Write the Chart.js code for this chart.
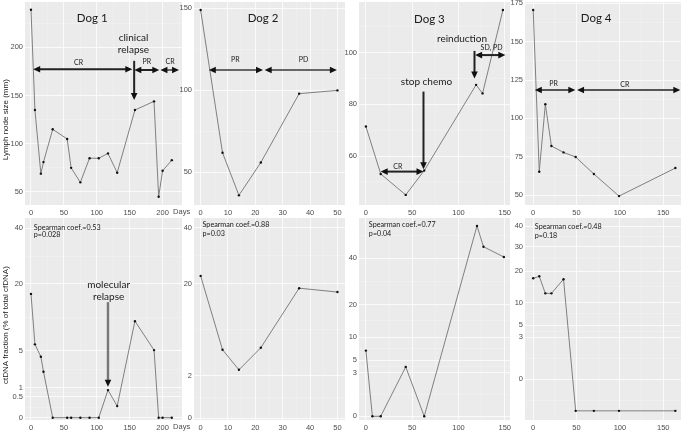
<!DOCTYPE html>
<html>
<head>
<meta charset="utf-8">
<script src="https://cdn.jsdelivr.net/npm/chart.js@4.4.0/dist/chart.umd.min.js"></script>
<style>
  body { margin: 0; background: #fff; }
  #wrap { position: relative; width: 685px; height: 435px; overflow: hidden; }
  canvas { position: absolute; }
</style>
</head>
<body>
<div id="wrap"></div>
<script>
// values (days since start)
const dog1Days = [0, 6, 15, 19, 33, 55, 61, 75, 89, 103, 117, 131, 158, 187, 194, 200, 214];
const dog1Node = [239, 135, 69, 81, 115, 105, 75, 60, 85, 85, 90, 70, 135, 144, 45, 72, 83];
const dog1Ct = [17.1, 6.0, 4.15, 2.36, 0, 0, 0, 0, 0, 0, 0.85, 0.15, 10.4, 5.1, 0, 0, 0];

const dog2Days = [0, 8, 14, 22, 36, 50];
const dog2Node = [149, 62, 36, 56, 98, 100];
const dog2Ct = [22.4, 5.2, 2.6, 5.5, 18.7, 17.6];

const dog3NodeDays = [0, 16, 43, 63, 119, 126, 148];
const dog3Node = [71.4, 53.1, 45.0, 54.4, 87.5, 84.2, 116.4];
const dog3CtDays = [0, 7, 16, 43, 63, 120, 127, 149];
const dog3Ct = [6.9, 0, 0, 3.9, 0, 58, 46, 40.6];

const dog4Days = [0, 7, 14, 21, 35, 49, 70, 99, 164];
const dog4Node = [170.7, 65.2, 109.2, 82, 77.8, 74.8, 63.7, 49.3, 67.6];
const dog4Ct = [17.4, 18.1, 12.6, 12.6, 17.1, -1.7, -1.7, -1.7, -1.7];

// tick labels
const dog1XTicks = [0, 50, 100, 150, 200];
const dog2XTicks = [0, 10, 20, 30, 40, 50];
const dog34XTicks = [0, 50, 100, 150];
const dog1NodeTicks = [50, 100, 150, 200];
const dog2NodeTicks = [50, 100, 150];
const dog3NodeTicks = [60, 80, 100];
const dog4NodeTicks = [50, 75, 100, 125, 150, 175];
const dog1CtTicks = [0, 0.5, 1, 5, 20, 40];
const dog2CtTicks = [0, 2, 20, 40];
const dog3CtTicks = [0, 3, 5, 10, 20, 40];
const dog4CtTicks = [0, 3, 5, 10, 20, 30, 40];

// annotations, in data units
const dog1NodeNotes = {
  texts: [
    { x: 93, y: 230, t: "Dog 1", size: 11.5 },
    { x: 72.4, y: 184.4, t: "CR", size: 7 },
    { x: 176, y: 185, t: "PR", size: 7 },
    { x: 211.4, y: 185, t: "CR", size: 7 },
    { x: 155.8, y: 210.4, t: "clinical", size: 10 },
    { x: 155.8, y: 197.2, t: "relapse", size: 10 },
  ],
  arrows: [
    { x1: 3.3, y1: 177.2, x2: 154, y2: 177.2, both: true },
    { x1: 157, y1: 176.5, x2: 195, y2: 176.5, both: true },
    { x1: 196.7, y1: 176.5, x2: 225, y2: 176.5, both: true, color: "#666" },
    { x1: 156.8, y1: 186, x2: 156.8, y2: 145.4 },
  ],
};
const dog2NodeNotes = {
  texts: [
    { x: 22.8, y: 144, t: "Dog 2", size: 11.5 },
    { x: 12.7, y: 118.5, t: "PR", size: 7 },
    { x: 37.6, y: 118.5, t: "PD", size: 7 },
  ],
  arrows: [
    { x1: 3.0, y1: 112.4, x2: 22.8, y2: 112.4, both: true, color: "#666" },
    { x1: 23.4, y1: 112.4, x2: 49.8, y2: 112.4, both: true, color: "#666" },
  ],
};
const dog3NodeNotes = {
  texts: [
    { x: 68.6, y: 113, t: "Dog 3", size: 11.5 },
    { x: 34.5, y: 55.9, t: "CR", size: 7 },
    { x: 65.4, y: 88.7, t: "stop chemo", size: 10 },
    { x: 103.8, y: 105.2, t: "reinduction", size: 10 },
    { x: 135.7, y: 101.9, t: "SD, PD", size: 7 },
  ],
  arrows: [
    { x1: 16, y1: 54, x2: 62.2, y2: 54, both: true },
    { x1: 62.2, y1: 84.9, x2: 62.2, y2: 54.9 },
    { x1: 117.3, y1: 100.6, x2: 117.3, y2: 90 },
    { x1: 118, y1: 99, x2: 150.6, y2: 99, both: true },
  ],
};
const dog4NodeNotes = {
  texts: [
    { x: 72.6, y: 165, t: "Dog 4", size: 11.5 },
    { x: 23.6, y: 122.9, t: "PR", size: 7 },
    { x: 105.6, y: 121.8, t: "CR", size: 7 },
  ],
  arrows: [
    { x1: 1.9, y1: 118.5, x2: 48.6, y2: 118.5, both: true, color: "#555" },
    { x1: 50.6, y1: 118.5, x2: 169.7, y2: 118.5, both: true, color: "#555" },
  ],
};
const dog1CtNotes = {
  texts: [
    { x: 4.3, y: 40.3, t: "Spearman coef.=0.53", size: 7.2, left: true },
    { x: 4.3, y: 37.3, t: "p=0.028", size: 7.2, left: true },
    { x: 118, y: 19.7, t: "molecular", size: 10 },
    { x: 118, y: 16.3, t: "relapse", size: 10 },
  ],
  arrows: [{ x1: 117, y1: 14.9, x2: 117, y2: 1.07, color: "#777", width: 2.4 }],
};
const dog2CtNotes = {
  texts: [
    { x: 0.7, y: 41.2, t: "Spearman coef.=0.88", size: 7.2, left: true },
    { x: 0.7, y: 37.8, t: "p=0.03", size: 7.2, left: true },
  ],
  arrows: [],
};
const dog3CtNotes = {
  texts: [
    { x: 3.2, y: 58.5, t: "Spearman coef.=0.77", size: 7.2, left: true },
    { x: 3.2, y: 53.6, t: "p=0.04", size: 7.2, left: true },
  ],
  arrows: [],
};
const dog4CtNotes = {
  texts: [
    { x: 1.9, y: 39.5, t: "Spearman coef.=0.48", size: 7.2, left: true },
    { x: 1.9, y: 35.2, t: "p=0.18", size: 7.2, left: true },
  ],
  arrows: [],
};

// square-root value axis (signed, so values under 0 still place)
const sgnSqrt = (v) => Math.sign(v) * Math.sqrt(Math.abs(v));
const sgnSq = (t) => Math.sign(t) * t * t;

class SqrtScale extends Chart.LinearScale {
  getPixelForValue(value) {
    if (value === null || value === undefined || isNaN(value)) return NaN;
    const a = sgnSqrt(this.min), b = sgnSqrt(this.max);
    return this.getPixelForDecimal((sgnSqrt(value) - a) / (b - a));
  }
  getValueForPixel(pixel) {
    const a = sgnSqrt(this.min), b = sgnSqrt(this.max);
    return sgnSq(a + this.getDecimalForPixel(pixel) * (b - a));
  }
}
SqrtScale.id = "sqrt";
SqrtScale.defaults = Chart.LinearScale.defaults;
Chart.register(SqrtScale);

// major ticks plus ggplot style minor grid lines halfway between
function gridTicks(majors, min, max, fwd, inv) {
  const t = majors.map(fwd);
  const mids = [t[0] - (t[1] - t[0]) / 2];
  for (let i = 0; i < t.length - 1; i++) mids.push((t[i] + t[i + 1]) / 2);
  mids.push(t[t.length - 1] + (t[t.length - 1] - t[t.length - 2]) / 2);
  const out = majors.map((v) => ({ value: v }));
  mids.map(inv).forEach((v) => {
    if (v > min && v < max) out.push({ value: v, minor: true });
  });
  return out.sort((p, q) => p.value - q.value);
}

function axis(type, min, max, majors, isX, size) {
  const fwd = type === "sqrt" ? sgnSqrt : (v) => v;
  const inv = type === "sqrt" ? sgnSq : (v) => v;
  return {
    type: type,
    min: min,
    max: max,
    bounds: "data",
    afterBuildTicks: (s) => {
      s.ticks = gridTicks(majors, min, max, fwd, inv);
    },
    afterFit: (s) => {
      if (isX) s.height = size;
      else s.width = size;
      s.paddingTop = s.paddingBottom = s.paddingLeft = s.paddingRight = 0;
    },
    grid: {
      color: (c) => (c.tick && c.tick.minor ? "rgba(255,255,255,0.45)" : "rgba(255,255,255,0.85)"),
      lineWidth: (c) => (c.tick && c.tick.minor ? 0.5 : 0.9),
      drawTicks: false,
    },
    border: { display: false },
    ticks: {
      autoSkip: false,
      maxRotation: 0,
      padding: isX ? 3 : 2,
      color: "#4d4d4d",
      font: { family: "Liberation Sans", size: 7.5 },
      callback: (v, i, ticks) => (ticks[i].minor ? "" : String(v)),
    },
  };
}

function drawArrow(ctx, x1, y1, x2, y2, a) {
  const ang = Math.atan2(y2 - y1, x2 - x1);
  const cos = Math.cos(ang), sin = Math.sin(ang);
  const hl = a.hl || 7, hw = a.hw || 3.3;
  const sx = a.both ? x1 + cos * hl * 0.8 : x1;
  const sy = a.both ? y1 + sin * hl * 0.8 : y1;
  ctx.strokeStyle = a.color || "#222";
  ctx.lineWidth = a.width || 2;
  ctx.beginPath();
  ctx.moveTo(sx, sy);
  ctx.lineTo(x2 - cos * hl * 0.8, y2 - sin * hl * 0.8);
  ctx.stroke();
  ctx.fillStyle = "#111";
  const head = (tx, ty, c, s) => {
    ctx.beginPath();
    ctx.moveTo(tx, ty);
    ctx.lineTo(tx - c * hl - s * hw, ty - s * hl + c * hw);
    ctx.lineTo(tx - c * hl + s * hw, ty - s * hl - c * hw);
    ctx.closePath();
    ctx.fill();
  };
  head(x2, y2, cos, sin);
  if (a.both) head(x1, y1, -cos, -sin);
}

function panelPlugin(p) {
  return {
    id: "panel",
    beforeDraw(chart) {
      const a = chart.chartArea, ctx = chart.ctx;
      ctx.save();
      ctx.fillStyle = "#ebebeb";
      ctx.fillRect(a.left, a.top, a.right - a.left, a.bottom - a.top);
      ctx.restore();
    },
    afterDraw(chart) {
      const xs = chart.scales.x, ys = chart.scales.y, ctx = chart.ctx, a = chart.chartArea;
      ctx.save();
      p.notes.arrows.forEach((ar) => {
        drawArrow(ctx, xs.getPixelForValue(ar.x1), ys.getPixelForValue(ar.y1),
          xs.getPixelForValue(ar.x2), ys.getPixelForValue(ar.y2), ar);
      });
      ctx.fillStyle = "#1a1a1a";
      ctx.textBaseline = "middle";
      p.notes.texts.forEach((t) => {
        ctx.font = t.size + "px Lato";
        ctx.textAlign = t.left ? "left" : "center";
        ctx.fillText(t.t, xs.getPixelForValue(t.x), ys.getPixelForValue(t.y));
      });
      if (p.days) {
        ctx.fillStyle = "#4d4d4d";
        ctx.font = "7.5px 'Liberation Sans'";
        ctx.textAlign = "left";
        ctx.textBaseline = "top";
        ctx.fillText("Days", xs.getPixelForValue(200) + 10.5, xs.top + 3);
      }
      if (p.yTitle) {
        ctx.fillStyle = "#222";
        ctx.font = "8px 'Liberation Sans'";
        ctx.textAlign = "center";
        ctx.textBaseline = "middle";
        ctx.translate(5.5, a.top + (a.bottom - a.top) * p.yTitleAt);
        ctx.rotate(-Math.PI / 2);
        ctx.fillText(p.yTitle, 0, 0);
      }
      ctx.restore();
    },
  };
}

const rows = { top: { y0: 2, y1: 205 }, bottom: { y0: 218, y1: 420 } };
const cols = [
  { x0: 25, x1: 182 },
  { x0: 194, x1: 347 },
  { x0: 359, x1: 512 },
  { x0: 525, x1: 683 },
];

const panels = [
  { col: 0, row: "top", days: dog1Days, vals: dog1Node, x: [-9.1, 229.5, dog1XTicks], yType: "linear", y: [36.5, 247, dog1NodeTicks], notes: dog1NodeNotes, daysLabel: true, yTitle: "Lymph node size (mm)", yTitleAt: 0.58 },
  { col: 1, row: "top", days: dog2Days, vals: dog2Node, x: [-2.42, 52.76, dog2XTicks], yType: "linear", y: [30.1, 153.9, dog2NodeTicks], notes: dog2NodeNotes },
  { col: 2, row: "top", days: dog3NodeDays, vals: dog3Node, x: [-7.46, 155.65, dog34XTicks], yType: "linear", y: [41.1, 119.5, dog3NodeTicks], notes: dog3NodeNotes },
  { col: 3, row: "top", days: dog4Days, vals: dog4Node, x: [-9.45, 170.5, dog34XTicks], yType: "linear", y: [43.5, 175.9, dog4NodeTicks], notes: dog4NodeNotes },
  { col: 0, row: "bottom", days: dog1Days, vals: dog1Ct, x: [-9.1, 229.5, dog1XTicks], yType: "sqrt", y: [-0.006, 44.5, dog1CtTicks], notes: dog1CtNotes, daysLabel: true, yTitle: "ctDNA fraction (% of total cfDNA)", yTitleAt: 0.53 },
  { col: 1, row: "bottom", days: dog2Days, vals: dog2Ct, x: [-2.42, 52.76, dog2XTicks], yType: "sqrt", y: [-0.003, 44.3, dog2CtTicks], notes: dog2CtNotes },
  { col: 2, row: "bottom", days: dog3CtDays, vals: dog3Ct, x: [-7.46, 155.65, dog34XTicks], yType: "sqrt", y: [-0.022, 62.9, dog3CtTicks], notes: dog3CtNotes },
  { col: 3, row: "bottom", days: dog4Days, vals: dog4Ct, x: [-9.45, 170.5, dog34XTicks], yType: "sqrt", y: [-2.83, 44.4, dog4CtTicks], notes: dog4CtNotes },
];

const wrap = document.getElementById("wrap");

panels.forEach((p) => {
  const c = cols[p.col], r = rows[p.row];
  const axisW = p.col === 0 ? c.x0 : 16;
  const padT = 6, padR = p.col === 0 ? 10 : 2, axisH = 16;
  const w = axisW + (c.x1 - c.x0) + padR;
  const h = padT + (r.y1 - r.y0) + axisH;
  const canvas = document.createElement("canvas");
  canvas.width = w;
  canvas.height = h;
  canvas.style.left = c.x0 - axisW + "px";
  canvas.style.top = r.y0 - padT + "px";
  canvas.style.width = w + "px";
  canvas.style.height = h + "px";
  wrap.appendChild(canvas);

  new Chart(canvas, {
    type: "line",
    data: {
      datasets: [
        {
          data: p.days.map((d, i) => ({ x: d, y: p.vals[i] })),
          borderColor: "#808080",
          borderWidth: 1,
          pointRadius: 1.2,
          pointBorderWidth: 0,
          pointBackgroundColor: "#111",
          tension: 0,
          fill: false,
        },
      ],
    },
    options: {
      responsive: false,
      animation: false,
      devicePixelRatio: 1,
      layout: { padding: { top: padT, right: padR, left: 0, bottom: 0 } },
      plugins: { legend: { display: false }, tooltip: { enabled: false } },
      scales: {
        x: axis("linear", p.x[0], p.x[1], p.x[2], true, axisH),
        y: axis(p.yType, p.y[0], p.y[1], p.y[2], false, axisW),
      },
    },
    plugins: [panelPlugin({ notes: p.notes, days: p.daysLabel, yTitle: p.yTitle, yTitleAt: p.yTitleAt })],
  });
});
</script>
</body>
</html>
